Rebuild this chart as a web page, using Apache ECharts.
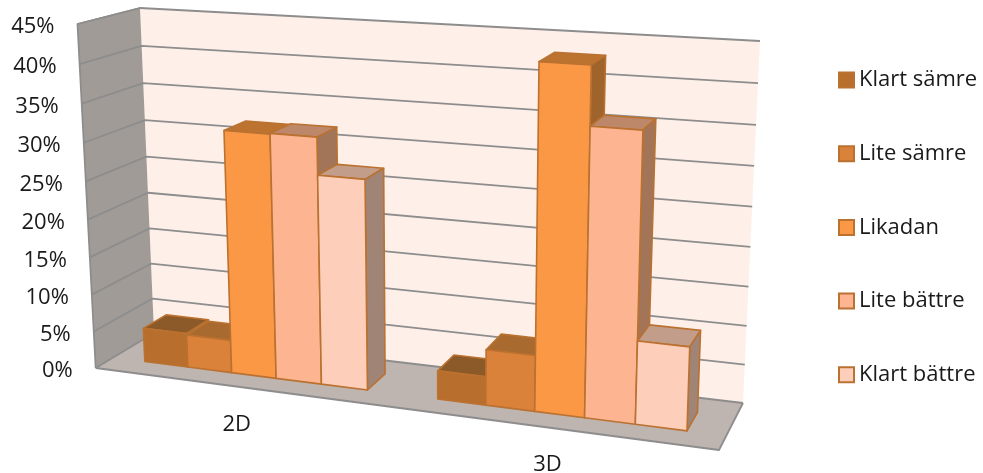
<!DOCTYPE html>
<html>
<head>
<meta charset="utf-8">
<style>html,body{margin:0;padding:0;background:#fff}#chart{width:983px;height:473px}</style>
<script src="https://cdn.jsdelivr.net/npm/echarts@6/dist/echarts.min.js"></script>
</head>
<body>
<div id="chart"></div>
<script>
// Survey answers, share of respondents in percent
const categories = ['2D', '3D'];
const klartSamre = [4.6, 3.7];
const liteSamre = [4.4, 7.2];
const likadan = [32, 43.2];
const liteBattre = [32.1, 36];
const klartBattre = [27.3, 10.5];
const yTicks = [0, 5, 10, 15, 20, 25, 30, 35, 40, 45];
const seriesNames = ['Klart sämre', 'Lite sämre', 'Likadan', 'Lite bättre', 'Klart bättre'];

const FONT = '"Open Sans", sans-serif';
const EDGE = '#BB7130';
const WALL_LINE = '#8D8D8D';
const palette = [
  { front: '#B86E2C', top: '#8B5A28', side: '#8B5A28' },
  { front: '#DB823A', top: '#A96A30', side: '#A96A30' },
  { front: '#FA9846', top: '#BC7330', side: '#9F642C' },
  { front: '#FCB590', top: '#BD886A', side: '#A27558' },
  { front: '#FDCEBA', top: '#C29E8A', side: '#A08476' }
];

// Screen position of the eight box corners, indexed [right][top][back]
const CORNERS = [
  [[[95.7, 368], [154, 333]], [[77.5, 24], [140, 8]]],
  [[[719, 450], [743, 403]], [[732, 66], [760, 41]]]
];
const WARP_X = 1.12, WARP_Y = 1.054;  // foreshortening along width and height
const warp = (s, k) => s / (s + k * (1 - s));
const mix = (a, b, t) => [a[0] + (b[0] - a[0]) * t, a[1] + (b[1] - a[1]) * t];

// Maps box coordinates (all 0..1) to the screen
function project(u, v, w) {
  const x = warp(u, WARP_X), y = warp(v, WARP_Y);
  const side = i => mix(
    mix(CORNERS[i][0][0], CORNERS[i][0][1], w),
    mix(CORNERS[i][1][0], CORNERS[i][1][1], w), y);
  return mix(side(0), side(1), x);
}

const GROUP_SHARE = 0.77;  // share of a category band taken up by its five bars
const DEPTH_FRONT = 0.3, DEPTH_BACK = 0.7;

// Converts a data point to box coordinates through the hidden cartesian axes
function toBox(api, rect, cat, val) {
  const c = api.coord([cat, val]);
  return [(c[0] - rect.x) / rect.width, (rect.y + rect.height - c[1]) / rect.height];
}
const face = (pts, fill) => ({
  type: 'polygon',
  shape: { points: pts },
  style: { fill, stroke: EDGE, lineWidth: 1.6, lineJoin: 'round' }
});

function renderBar(seriesIndex, params, api) {
  const rect = params.coordSys;
  const cat = api.value(0);
  const [uc, v] = toBox(api, rect, cat, api.value(1));
  const band = api.size([1, 0])[0] / rect.width;
  const barW = band * GROUP_SHARE / 5;
  const u0 = uc - band * GROUP_SHARE / 2 + seriesIndex * barW, u1 = u0 + barW;
  const z0 = DEPTH_FRONT, z1 = DEPTH_BACK;
  const col = palette[seriesIndex];
  return {
    type: 'group',
    children: [
      face([project(u0, v, z0), project(u1, v, z0), project(u1, v, z1), project(u0, v, z1)], col.top),
      face([project(u1, 0, z0), project(u1, 0, z1), project(u1, v, z1), project(u1, v, z0)], col.side),
      face([project(u0, 0, z0), project(u1, 0, z0), project(u1, v, z0), project(u0, v, z0)], col.front)
    ]
  };
}

// Walls, floor, gridlines and the axis texts, all placed along the box edges
function renderFrame(params, api) {
  const rect = params.coordSys;
  const plain = (pts, fill) => ({ type: 'polygon', shape: { points: pts }, style: { fill } });
  const line = pts => ({
    type: 'polyline', shape: { points: pts },
    style: { stroke: WALL_LINE, lineWidth: 1.8, fill: null, lineJoin: 'round' }
  });
  const children = [
    plain([project(0, 0, 1), project(1, 0, 1), project(1, 1, 1), project(0, 1, 1)], '#FEF0E9'),
    plain([project(0, 0, 0), project(0, 0, 1), project(0, 1, 1), project(0, 1, 0)], '#A19B97'),
    plain([project(0, 0, 0), project(1, 0, 0), project(1, 0, 1), project(0, 0, 1)], '#BEB4B0')
  ];
  yTicks.forEach(t => {
    const v = toBox(api, rect, 0, t)[1];
    children.push(line([project(0, v, 0), project(0, v, 1), project(1, v, 1)]));
    const p = project(0, v, 0);
    children.push({
      type: 'text',
      style: { text: t + '%', x: p[0] - 23, y: p[1] + 3, align: 'right', verticalAlign: 'middle', font: '22px ' + FONT, fill: '#1a1a1a' }
    });
  });
  children.push(line([project(0, 0, 0), project(0, 1, 0), project(0, 1, 1)]));
  children.push(line([project(0, 0, 0), project(1, 0, 0), project(1, 0, 1)]));
  categories.forEach((name, i) => {
    const u = toBox(api, rect, i, 0)[0];
    const p = project(u, 0, 0);
    children.push({
      type: 'text',
      style: { text: name, x: p[0] - 2, y: p[1] + 37.5, align: 'center', verticalAlign: 'middle', font: '22px ' + FONT, fill: '#1a1a1a' }
    });
  });
  return { type: 'group', children };
}

const valueLists = [klartSamre, liteSamre, likadan, liteBattre, klartBattre];
const series = [{
  type: 'custom',
  name: 'Ram',
  silent: true,
  data: [[0, 0]],
  encode: { x: 0, y: 1 },
  renderItem: renderFrame,
  z: 1
}];
seriesNames.forEach((name, s) => {
  series.push({
    type: 'custom',
    name,
    data: valueLists[s].map((val, i) => [i, val]),
    encode: { x: 0, y: 1 },
    renderItem: (params, api) => renderBar(s, params, api),
    itemStyle: { color: palette[s].front },
    z: 2 + s
  });
});

const chart = echarts.init(document.getElementById('chart'), null, { renderer: 'canvas' });
chart.setOption({
  animation: false,
  backgroundColor: '#fff',
  grid: { left: 100, right: 300, top: 40, bottom: 100 },
  xAxis: { type: 'category', data: categories, show: false },
  yAxis: { type: 'value', min: 0, max: 45, interval: 5, show: false },
  legend: {
    orient: 'vertical',
    left: 833,
    top: 64,
    itemWidth: 15,
    itemHeight: 15,
    itemGap: 51.7,
    icon: 'rect',
    selectedMode: false,
    textStyle: { fontFamily: 'Open Sans', fontSize: 22, color: '#1a1a1a' },
    data: seriesNames.map((name, s) => ({
      name,
      itemStyle: { color: palette[s].front, borderColor: EDGE, borderWidth: 2 }
    }))
  },
  series
});
</script>
</body>
</html>
